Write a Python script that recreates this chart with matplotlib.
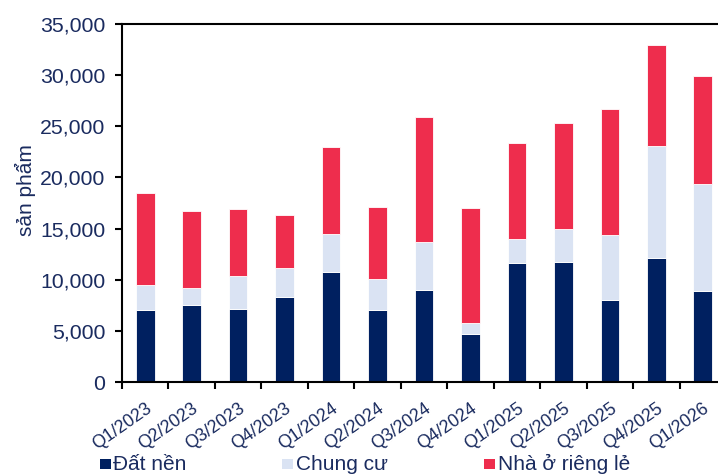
import matplotlib
matplotlib.use("Agg")
import matplotlib.pyplot as plt
from matplotlib.patches import Rectangle
import numpy as np

plt.rcParams['font.family'] = ['Liberation Sans', 'DejaVu Sans']

quarters = ["Q1/2023", "Q2/2023", "Q3/2023", "Q4/2023", "Q1/2024", "Q2/2024",
            "Q3/2024", "Q4/2024", "Q1/2025", "Q2/2025", "Q3/2025", "Q4/2025",
            "Q1/2026"]
dat_nen = [7000, 7500, 7100, 8300, 10800, 7000, 9000, 4700, 11650, 11700, 8000, 12100, 8850]
chung_cu = [2500, 1700, 3300, 2800, 3700, 3050, 4700, 1100, 2350, 3300, 6350, 10950, 10550]
nha_rieng_le = [9000, 7500, 6500, 5200, 8500, 7050, 12200, 11200, 9400, 10300, 12350, 9850, 10500]

series_names = ["Đất nền", "Chung cư", "Nhà ở riêng lẻ"]
colors = ["#002060", "#DAE3F3", "#EE2D4D"]
text_color = "#1A2B5F"

W, H = 718, 476
fig = plt.figure(figsize=(W / 100, H / 100), dpi=100)
ax = fig.add_axes([122 / W, 1 - 382 / H, (726 - 122) / W, (382 - 24) / H])

x = np.arange(len(quarters))
bottom = np.zeros(len(quarters))
for vals, col in zip([dat_nen, chung_cu, nha_rieng_le], colors):
    ax.bar(x, vals, width=0.4, bottom=bottom, color=col,
           edgecolor="white", linewidth=0.6)
    bottom += np.array(vals)

ax.set_xlim(-0.5, len(quarters) - 0.5)
ax.set_ylim(0, 35000)
ax.set_yticks(np.arange(0, 35001, 5000))
ax.set_yticklabels([f"{v:,}" for v in range(0, 35001, 5000)])

ax.set_xticks(x)
ax.set_xticklabels(quarters, rotation=35, ha="right", va="top",
                   rotation_mode="anchor")
ax.set_xticks(np.arange(-0.5, len(quarters), 1.0), minor=True)
ax.tick_params(axis="x", which="major", length=0, pad=13, labelsize=12.8,
               labelcolor=text_color)
ax.tick_params(axis="x", which="minor", length=5, width=1.5, direction="out",
               color="black")
ax.tick_params(axis="y", length=5, width=1.5, direction="out", pad=7,
               labelsize=15.3, labelcolor=text_color)

for side in ["left", "bottom", "top"]:
    ax.spines[side].set_linewidth(1.5)
    ax.spines[side].set_color("black")
ax.spines["right"].set_visible(False)

fig.text(25 / W, 1 - 190 / H, "sản phẩm", rotation=90, ha="center",
         va="center", fontsize=15, color=text_color)

# legend row along the bottom edge
legend_items = [(100, 113), (282, 296), (484, 498)]
for (mx, tx), name, col in zip(legend_items, series_names, colors):
    fig.add_artist(Rectangle((mx / W, 1 - 469 / H), 10.5 / W, 10.5 / H,
                             transform=fig.transFigure, facecolor=col,
                             edgecolor="none"))
    fig.text(tx / W, 1 - 464 / H, name, ha="left", va="center",
             fontsize=15, color=text_color)

fig.savefig("out.png", dpi=100)
